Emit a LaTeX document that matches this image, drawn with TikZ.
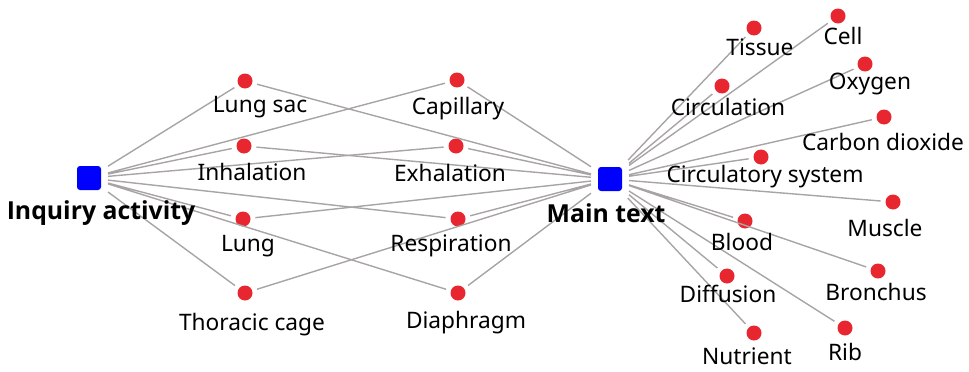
\documentclass[tikz,border=0pt]{standalone}
\usepackage{fontspec}
\setmainfont{Noto Sans}
\newfontfamily\hubfont{Open Sans}
\usetikzlibrary{positioning}
\definecolor{dotred}{RGB}{232,38,48}
\definecolor{hubblue}{RGB}{0,0,255}
\definecolor{linkgray}{RGB}{168,164,164}
\tikzset{
  hub/.style       = {shape=rectangle, rounded corners=3pt, fill=hubblue,
                      minimum size=24pt, inner sep=0pt, outer sep=7pt},
  term/.style      = {shape=circle, fill=dotred, minimum size=15pt,
                      inner sep=0pt, outer sep=5pt},
  hublabel/.style  = {font=\hubfont\fontsize{24.8}{28}\selectfont\bfseries, inner sep=0pt},
  termlabel/.style = {font=\fontsize{22.7}{26}\selectfont, inner sep=0pt},
  link/.style      = {draw=linkgray, line width=1.4pt}
}

\begin{document}
\begin{tikzpicture}[x=1pt,y=-1pt]
\useasboundingbox (0,0) rectangle (969,372);
% hubs
\node [hub] (inquiry) at (89,178) {};
\node [hub] (main) at (610,179) {};
% middle terms
\node [term] (lungsac)   at (245,81)  {};
\node [term] (inhal)     at (244,146) {};
\node [term] (lung)      at (243,219) {};
\node [term] (thoracic)  at (245,293) {};
\node [term] (capillary) at (457,80)  {};
\node [term] (exhal)     at (456,146) {};
\node [term] (resp)      at (458,219) {};
\node [term] (diaphragm) at (458,293) {};
% right terms
\node [term] (tissue)    at (754,28)  {};
\node [term] (cell)      at (838,16)  {};
\node [term] (oxygen)    at (865,64)  {};
\node [term] (circ)      at (722,86)  {};
\node [term] (co2)       at (884,117) {};
\node [term] (circsys)   at (761,157) {};
\node [term] (muscle)    at (893,202) {};
\node [term] (blood)     at (745,221) {};
\node [term] (bronchus)  at (878,271) {};
\node [term] (diffusion) at (727,276) {};
\node [term] (rib)       at (845,328) {};
\node [term] (nutrient)  at (754,333) {};

% links
\draw [link] (inquiry) -- (lungsac)  (inquiry) -- (inhal)
             (inquiry) -- (lung)     (inquiry) -- (thoracic)
             (inquiry) -- (capillary) (inquiry) -- (exhal)
             (inquiry) -- (resp)     (inquiry) -- (diaphragm);
\draw [link] (main) -- (lungsac)  (main) -- (inhal)
             (main) -- (lung)     (main) -- (thoracic)
             (main) -- (capillary) (main) -- (exhal)
             (main) -- (resp)     (main) -- (diaphragm);
\draw [link] (main) -- (tissue)   (main) -- (cell)
             (main) -- (oxygen)   (main) -- (circ)
             (main) -- (co2)      (main) -- (circsys)
             (main) -- (muscle)   (main) -- (blood)
             (main) -- (bronchus) (main) -- (diffusion)
             (main) -- (rib)      (main) -- (nutrient);

% labels
\node [hublabel] (inquiry-t) at (101,213) {Inquiry activity};
\node [hublabel] (main-t) at (606,213) {Main text};
\node [termlabel] (lungsac-t)   at (260,107) {Lung sac};
\node [termlabel] (inhal-t)     at (252,172) {Inhalation};
\node [termlabel] (lung-t)      at (248,246) {Lung};
\node [termlabel] (thoracic-t)  at (252,325) {Thoracic cage};
\node [termlabel] (capillary-t) at (458,109) {Capillary};
\node [termlabel] (exhal-t)     at (450,173) {Exhalation};
\node [termlabel] (resp-t)      at (451,246) {Respiration};
\node [termlabel] (diaphragm-t) at (466,323) {Diaphragm};
\node [termlabel] (tissue-t)    at (760,47)  {Tissue};
\node [termlabel] (cell-t)      at (843,36)  {Cell};
\node [termlabel] (oxygen-t)    at (870,84)  {Oxygen};
\node [termlabel] (circ-t)      at (728,107) {Circulation};
\node [termlabel] (co2-t)       at (883,142) {Carbon dioxide};
\node [termlabel] (circsys-t)   at (765,177) {Circulatory system};
\node [termlabel] (muscle-t)    at (885,228) {Muscle};
\node [termlabel] (blood-t)     at (742,242) {Blood};
\node [termlabel] (bronchus-t)  at (876,292) {Bronchus};
\node [termlabel] (diffusion-t) at (728,294) {Diffusion};
\node [termlabel] (rib-t)       at (845,352) {Rib};
\node [termlabel] (nutrient-t)  at (747,356) {Nutrient};
\end{tikzpicture}
\end{document}
